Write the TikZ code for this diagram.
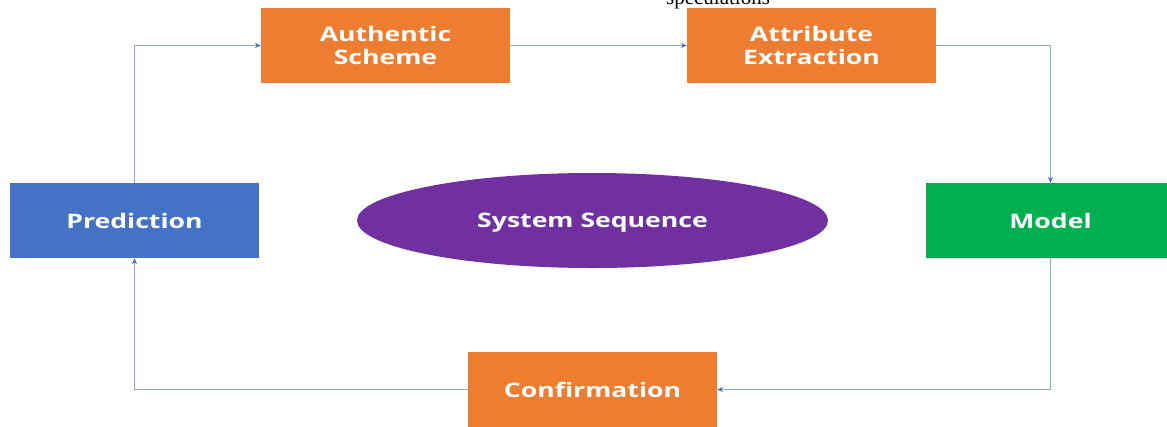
\documentclass[tikz,border=0pt]{standalone}
\usepackage{fontspec}
\setmainfont{Liberation Serif}
\newfontfamily\boxfont[FakeStretch=1.33]{Open Sans}
\usetikzlibrary{arrows.meta,shapes.geometric}
\definecolor{orangebox}{HTML}{ED7D31}
\definecolor{bluebox}{HTML}{4472C4}
\definecolor{greenbox}{HTML}{00B050}
\definecolor{purplebox}{HTML}{7030A0}
\definecolor{linecol}{HTML}{8FA8D4}
\definecolor{tipcol}{HTML}{4A6FB8}
\tikzset{
  stepbox/.style={rectangle, minimum width=249pt, minimum height=75pt, inner sep=0pt,
    text=white, font=\boxfont\bfseries\fontsize{20}{23}\selectfont, align=center},
  conn/.style={draw=linecol, line width=0.9pt, -{Stealth[length=6pt,width=5pt,color=tipcol]}},
}
\begin{document}
\begin{tikzpicture}[x=1pt,y=-1pt]
\useasboundingbox (0,0) rectangle (1167,426);
\begin{scope}
\clip (0,0) rectangle (1167,426);
\node[anchor=base, font=\fontsize{21}{24}\selectfont, inner sep=0pt] (spec) at (718,4.5) {speculations};
\node[stepbox, fill=orangebox] (auth) at (385.5,45.5) {Authentic\\Scheme};
\node[stepbox, fill=orangebox] (attr) at (811.5,45.5) {Attribute\\Extraction};
\node[stepbox, fill=bluebox] (pred) at (134.5,220.5) {Prediction};
\node[stepbox, fill=greenbox] (model) at (1050.5,220.5) {Model};
\node[stepbox, fill=orangebox] (conf) at (592.5,389.5) {Confirmation};
\node[ellipse, fill=purplebox, minimum width=471pt, minimum height=95pt, inner sep=0pt] (sys) at (592.5,220.5) {};
\node[text=white, font=\boxfont\bfseries\fontsize{20}{23}\selectfont, anchor=base, inner sep=0pt] (systext) at (592.5,227) {System Sequence};
\coordinate (c1) at (134.5,45.5);
\coordinate (c2) at (1050.5,45.5);
\coordinate (c3) at (1050.5,389.5);
\coordinate (c4) at (134.5,389.5);
\draw[conn] (pred.north) -- (c1) -- (auth.west);
\draw[conn] (auth.east) -- (attr.west);
\draw[conn] (attr.east) -- (c2) -- (model.north);
\draw[conn] (model.south) -- (c3) -- (conf.east);
\draw[conn] (conf.west) -- (c4) -- (pred.south);
\end{scope}
\end{tikzpicture}
\end{document}
